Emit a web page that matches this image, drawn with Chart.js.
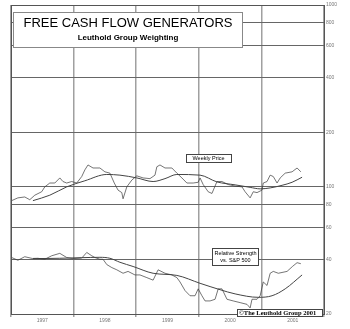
<!DOCTYPE html>
<html>
<head>
<meta charset="utf-8">
<script src="https://cdn.jsdelivr.net/npm/chart.js@4/dist/chart.umd.min.js"></script>
<style>
html, body { margin: 0; padding: 0; background: #fff; }
#wrap { width: 350px; height: 329px; }
</style>
</head>
<body>
<div id="wrap"><canvas id="chart"></canvas></div>
<script>
// weekly price (decimal year, index level)
const priceDates = [1996.51, 1996.61, 1996.72, 1996.80, 1996.88, 1996.99, 1997.04, 1997.12, 1997.20, 1997.28,
    1997.33, 1997.39, 1997.47, 1997.55, 1997.63, 1997.68, 1997.73, 1997.81, 1997.92, 1998.00,
    1998.08, 1998.15, 1998.21, 1998.27, 1998.29, 1998.35, 1998.43, 1998.51, 1998.61, 1998.72,
    1998.80, 1998.83, 1998.88, 1998.96, 1999.07, 1999.15, 1999.23, 1999.31, 1999.41, 1999.49,
    1999.52, 1999.57, 1999.65, 1999.71, 1999.79, 1999.87, 1999.97, 2000.08, 2000.19, 2000.24,
    2000.32, 2000.37, 2000.43, 2000.51, 2000.53, 2000.59, 2000.64, 2000.69, 2000.75, 2000.80,
    2000.88, 2000.99, 2001.07, 2001.13]
const priceValues = [84, 87, 88, 85, 90, 94, 100, 105, 105, 112,
    107, 105, 107, 105, 114, 124, 132, 127, 127, 121,
    119, 105, 96, 93, 86, 100, 109, 115, 112, 111,
    116, 129, 132, 127, 127, 119, 112, 105, 105, 106,
    112, 103, 94, 92, 107, 107, 103, 101, 100, 94,
    87, 94, 93, 96, 105, 107, 116, 114, 105, 112,
    119, 121, 127, 121]

const priceMaDates = [1996.85, 1997.12, 1997.39, 1997.68, 1998.03, 1998.24, 1998.51, 1998.77, 1998.96, 1999.15,
    1999.52, 1999.79, 2000.08, 2000.32, 2000.48, 2000.64, 2000.83, 2000.99, 2001.15]
const priceMaValues = [84, 90, 100, 108, 117, 116, 112, 107, 111, 117,
    116, 106.5, 102.6, 99.4, 97.5, 98.7, 102, 106, 113]

// relative strength vs. S&P 500
const rsDates = [1996.51, 1996.61, 1996.72, 1996.84, 1996.93, 1997.04, 1997.15, 1997.28, 1997.39, 1997.49,
    1997.63, 1997.71, 1997.79, 1997.84, 1997.92, 1997.97, 1998.03, 1998.11, 1998.19, 1998.29,
    1998.37, 1998.48, 1998.56, 1998.67, 1998.77, 1998.85, 1998.96, 1999.07, 1999.15, 1999.20,
    1999.28, 1999.36, 1999.44, 1999.49, 1999.55, 1999.60, 1999.68, 1999.76, 1999.81, 1999.87,
    1999.95, 2000.05, 2000.16, 2000.27, 2000.32, 2000.35, 2000.43, 2000.48, 2000.53, 2000.59,
    2000.64, 2000.69, 2000.77, 2000.91, 2001.00, 2001.07, 2001.13]
const rsValues = [40.9, 39.5, 41.3, 40.4, 40.5, 40, 41.8, 43.1, 40.9, 40.3,
    40.6, 43.6, 41.8, 40.9, 40, 40, 37.4, 36, 35, 33.5,
    34.3, 32.8, 32.8, 31.7, 30.7, 35, 33.5, 32.8, 31.7, 30,
    26.9, 25.2, 25.2, 27.5, 25.2, 23.6, 23.6, 24.1, 27.5, 27.5,
    24.1, 23.6, 23.1, 22.6, 21.6, 24.1, 24.1, 25.2, 30, 28.7,
    33.5, 34.3, 33.5, 34.3, 36.6, 38.3, 37.8]

const rsMaDates = [1996.85, 1997.28, 1997.63, 1997.92, 1998.08, 1998.24, 1998.45, 1998.77, 1999.15, 1999.52,
    1999.84, 2000.08, 2000.45, 2000.67, 2000.88, 2001.15]
const rsMaValues = [40.3, 40.5, 40.8, 41, 40.5, 38.5, 36.5, 33.5, 32.6, 29.5,
    27.2, 25.8, 24.7, 25.2, 27.5, 32.8]

const yearLabels = [1997, 1998, 1999, 2000, 2001]
const yTicks = [20, 40, 60, 80, 100, 200, 400, 600, 800, 1000]

function points(dates, values) {
    return dates.map((d, i) => ({x: d, y: values[i]}))
}

function line(data, color, width, smooth) {
    return {
        data: data,
        borderColor: color,
        borderWidth: width,
        pointRadius: 0,
        tension: 0,
        cubicInterpolationMode: smooth ? 'monotone' : 'default',
        fill: false,
    }
}

function box(ctx, x, y, w, h, stroke) {
    ctx.fillStyle = '#fff'
    ctx.fillRect(x, y, w, h)
    ctx.strokeStyle = stroke
    ctx.lineWidth = 1
    ctx.strokeRect(x + 0.5, y + 0.5, w, h)
}

const decorations = {
    id: 'decorations',
    afterDatasetsDraw(chart) {
        const ctx = chart.ctx
        const a = chart.chartArea
        ctx.save()
        // frame
        ctx.strokeStyle = '#555'
        ctx.lineWidth = 1
        ctx.strokeRect(Math.round(a.left) + 0.5, Math.round(a.top) + 0.5,
            Math.round(a.right - a.left), Math.round(a.bottom - a.top))

        // title box
        box(ctx, 13, 12, 229, 35, '#888')
        ctx.fillStyle = '#000'
        ctx.textAlign = 'center'
        ctx.textBaseline = 'alphabetic'
        ctx.font = '13px "Liberation Sans", Arial, sans-serif'
        ctx.fillText('FREE CASH FLOW GENERATORS', 128, 27)
        ctx.font = 'bold 8px "Liberation Sans", Arial, sans-serif'
        ctx.fillText('Leuthold Group Weighting', 128, 40)

        // weekly price label
        box(ctx, 186, 154, 45, 8, '#444')
        ctx.fillStyle = '#000'
        ctx.font = '5.5px "Liberation Sans", Arial, sans-serif'
        ctx.textBaseline = 'middle'
        ctx.fillText('Weekly Price', 208.5, 158.5)

        // relative strength label
        box(ctx, 212, 248, 46, 17, '#444')
        ctx.fillStyle = '#000'
        ctx.fillText('Relative Strength', 235.5, 253)
        ctx.fillText('vs. S&P 500', 235.5, 260)

        // copyright
        box(ctx, 237, 309, 85, 7, '#444')
        ctx.fillStyle = '#000'
        ctx.font = 'bold 6.5px "Liberation Serif", "Times New Roman", serif'
        ctx.textAlign = 'left'
        ctx.fillText('\u00A9The Leuthold Group 2001', 239, 313)
        ctx.restore()
    }
}

new Chart(document.getElementById('chart'), {
    type: 'line',
    data: {
        datasets: [
            line(points(priceDates, priceValues), '#3a3a3a', 0.7, false),
            line(points(priceMaDates, priceMaValues), '#444', 1, true),
            line(points(rsDates, rsValues), '#3a3a3a', 0.7, false),
            line(points(rsMaDates, rsMaValues), '#444', 1, true),
        ]
    },
    options: {
        responsive: true,
        maintainAspectRatio: false,
        animation: false,
        devicePixelRatio: 1,
        layout: {padding: {left: 11, top: 5, right: 0, bottom: 0}},
        plugins: {legend: {display: false}, tooltip: {enabled: false}},
        scales: {
            x: {
                type: 'linear',
                min: 1996.5,
                max: 2001.5,
                afterBuildTicks: (s) => {
                    const t = []
                    for (let v = 1996.5; v <= 2001.51; v += 0.5) t.push({value: v})
                    s.ticks = t
                },
                afterFit: (s) => { s.height = 15 },
                border: {display: false},
                grid: {
                    color: (c) => (c.tick && c.tick.value % 1 !== 0) ? '#a0a0a0' : 'rgba(0,0,0,0)',
                    lineWidth: 1.5,
                    tickLength: 3,
                },
                ticks: {
                    autoSkip: false,
                    maxRotation: 0,
                    padding: 1,
                    color: '#777',
                    font: {size: 5, family: 'Liberation Sans'},
                    callback: (v) => yearLabels.includes(v) ? String(v) : '',
                },
            },
            y: {
                type: 'logarithmic',
                position: 'right',
                min: 20,
                max: 1000,
                afterBuildTicks: (s) => { s.ticks = yTicks.map(v => ({value: v})) },
                afterFit: (s) => { s.width = 26 },
                border: {display: false},
                grid: {color: '#666', lineWidth: 1, drawTicks: false},
                ticks: {
                    autoSkip: false,
                    padding: 2,
                    color: '#777',
                    font: {size: 5, family: 'Liberation Sans'},
                    callback: (v) => String(v),
                },
            },
        },
    },
    plugins: [decorations],
})
</script>
</body>
</html>
